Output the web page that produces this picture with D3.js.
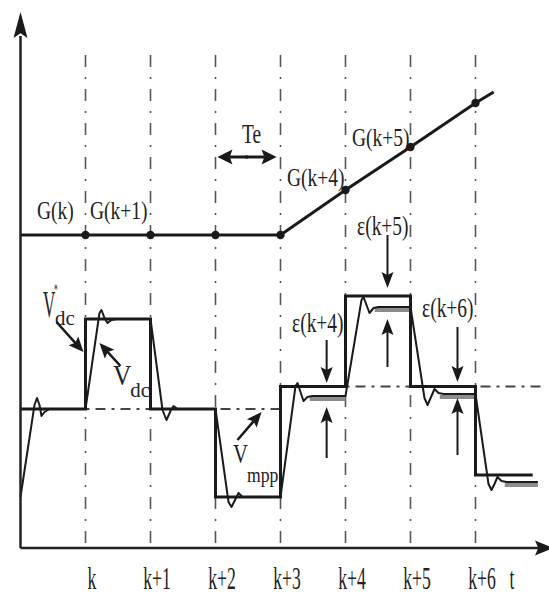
<!DOCTYPE html>
<html><head><meta charset="utf-8">
<script src="https://cdn.jsdelivr.net/npm/d3@7"></script>
<style>
html,body{margin:0;padding:0;background:#fff;}
svg{display:block;font-family:"Liberation Serif","Times New Roman",serif;}
</style></head><body>
<svg id="chart" width="549" height="597"></svg>
<script>
// Sampling instants on the time axis
const tickLabels = ["k", "k+1", "k+2", "k+3", "k+4", "k+5", "k+6"];
const tickTimes = [0, 1, 2, 3, 4, 5, 6];

// Reference voltage V*dc, held from each instant to the next
const refTimes = [-1, 0, 1, 2, 3, 4, 5, 6, 6.88];
const refValues = [27.8, 45.8, 27.8, 10.2, 32.3, 50.4, 32.3, 14.6, 14.6];

// Maximum power point voltage Vmpp (two plateaus)
const mppStart = [-1, 3];
const mppEnd = [3, 7.05];
const mppValues = [27.8, 32.3];

// Irradiance G: constant, then ramping after k+3
const gTimes = [-1, 0, 1, 2, 3, 4, 5, 6, 6.28];
const gValues = [62.6, 62.6, 62.6, 62.6, 62.6, 71.6, 80.2, 89.0, 91.2];
const gSampleTimes = [0, 1, 2, 3, 4, 5, 6];
const gSampleValues = [62.6, 62.6, 62.6, 62.6, 71.6, 80.2, 89.0];

// Measured DC-link voltage Vdc (transient after each step)
const vdcTimes = [-1.0, -0.785, -0.746, -0.708, -0.677, -0.631, -0.554, 0,
  0.215, 0.246, 0.292, 0.338, 0.4, 0.477, 1.0,
  1.185, 1.246, 1.308, 1.354, 1.415, 2.0,
  2.2, 2.246, 2.308, 2.354, 2.415, 3.0,
  3.231, 3.262, 3.308, 3.354, 3.415, 3.492, 4.0,
  4.246, 4.277, 4.323, 4.369, 4.431, 4.508, 5.0,
  5.215, 5.262, 5.323, 5.369, 5.431, 5.508, 6.0,
  6.2, 6.246, 6.292, 6.338, 6.4, 6.477, 6.96];
const vdcValues = [10.2, 28.6, 30.0, 28.6, 26.4, 27.2, 27.8, 27.8,
  47.0, 47.6, 46.0, 45.0, 45.6, 45.8, 45.8,
  27.6, 25.6, 27.4, 28.4, 27.8, 27.8,
  9.2, 8.2, 9.8, 11.0, 10.2, 10.2,
  32.4, 33.0, 31.2, 29.4, 30.2, 30.4, 30.4,
  49.6, 50.2, 48.6, 47.0, 48.0, 48.2, 48.2,
  30.0, 28.6, 30.4, 31.8, 31.0, 30.8, 30.8,
  12.8, 11.6, 12.8, 14.2, 13.4, 13.2, 13.2];

// Steady-state plateaus of Vdc that leave a tracking error
const settleStart = [3.45, 4.45, 5.45, 6.45];
const settleEnd = [4.0, 5.0, 6.0, 6.96];
const settleValues = [30.4, 48.2, 30.8, 13.2];

// Tracking errors ε: arrow pairs pointing at the gap
const epsLabels = ["ε(k+4)", "ε(k+5)", "ε(k+6)"];
const epsTimes = [3.71, 4.646, 5.723];
const epsDownFrom = [41.6, 62.6, 44.2];
const epsDownTo = [33.0, 52.0, 33.2];
const epsUpFrom = [18.0, 36.2, 18.6];
const epsUpTo = [28.2, 45.8, 30.0];

const svg = d3.select("#chart");
const x = d3.scaleLinear().domain([-1, 7]).range([20.5, 540.5]);
const y = d3.scaleLinear().domain([0, 100]).range([548, 48]);

const ink = "#1a1a1a";

// filled arrowhead with its tip at (x2,y2), pointing from (x1,y1)
function head(g, x1, y1, x2, y2, len, half) {
  const dx = x2 - x1, dy = y2 - y1, L = Math.hypot(dx, dy);
  const ux = dx / L, uy = dy / L;
  const bx = x2 - ux * len, by = y2 - uy * len;
  const p = d3.path();
  p.moveTo(x2, y2);
  p.lineTo(bx - uy * half, by + ux * half);
  p.lineTo(bx + ux * len * 0.18, by + uy * len * 0.18);
  p.lineTo(bx + uy * half, by - ux * half);
  p.closePath();
  g.append("path").attr("d", p.toString()).attr("fill", ink);
}
function arrow(g, t1, v1, t2, v2, len, half, width) {
  const x1 = x(t1), y1 = y(v1), x2 = x(t2), y2 = y(v2);
  const L = Math.hypot(x2 - x1, y2 - y1);
  const ex = x2 - (x2 - x1) / L * len * 0.8, ey = y2 - (y2 - y1) / L * len * 0.8;
  g.append("line").attr("x1", x1).attr("y1", y1).attr("x2", ex).attr("y2", ey)
    .attr("stroke", ink).attr("stroke-width", width);
  head(g, x1, y1, x2, y2, len, half);
}

// vertical dash-dot guides at every sampling instant
const guides = svg.append("g");
tickTimes.forEach(t => {
  guides.append("line")
    .attr("x1", x(t)).attr("x2", x(t))
    .attr("y1", 55).attr("y2", y(0))
    .attr("stroke", "#555").attr("stroke-width", 1.6)
    .attr("stroke-dasharray", "12,10,2,10");
});

// Vmpp dash-dot
const mpp = svg.append("g");
mppValues.forEach((v, i) => {
  mpp.append("line")
    .attr("x1", x(mppStart[i])).attr("x2", x(mppEnd[i]))
    .attr("y1", y(v)).attr("y2", y(v))
    .attr("stroke", "#444").attr("stroke-width", 2)
    .attr("stroke-dasharray", "10,6,3,6");
});

// irradiance G
svg.append("path")
  .datum(gTimes.map((t, i) => [t, gValues[i]]))
  .attr("fill", "none").attr("stroke", ink).attr("stroke-width", 3)
  .attr("d", d3.line().x(d => x(d[0])).y(d => y(d[1])));
svg.append("g").selectAll("circle")
  .data(gSampleTimes.map((t, i) => [t, gSampleValues[i]]))
  .join("circle")
  .attr("cx", d => x(d[0])).attr("cy", d => y(d[1])).attr("r", 4.2)
  .attr("fill", ink);

// grey bands under the Vdc plateaus
const bands = svg.append("g");
settleValues.forEach((v, i) => {
  bands.append("line")
    .attr("x1", x(settleStart[i])).attr("x2", x(settleEnd[i]))
    .attr("y1", y(v) + 3).attr("y2", y(v) + 3)
    .attr("stroke", "#8c8c8c").attr("stroke-width", 4);
});

// reference V*dc staircase
svg.append("path")
  .datum(refTimes.map((t, i) => [t, refValues[i]]))
  .attr("fill", "none").attr("stroke", ink).attr("stroke-width", 3)
  .attr("d", d3.line().curve(d3.curveStepAfter).x(d => x(d[0])).y(d => y(d[1])));

// measured Vdc
svg.append("path")
  .datum(vdcTimes.map((t, i) => [t, vdcValues[i]]))
  .attr("fill", "none").attr("stroke", ink).attr("stroke-width", 2)
  .attr("stroke-linejoin", "round")
  .attr("d", d3.line().x(d => x(d[0])).y(d => y(d[1])));

// time axis
const xAxis = d3.axisBottom(x).tickValues(tickTimes)
  .tickFormat((d, i) => tickLabels[i]).tickSize(0).tickPadding(0);
const ax = svg.append("g").attr("transform", `translate(0,${y(0)})`).call(xAxis);
ax.select(".domain").remove();
ax.selectAll("text")
  .attr("fill", "#222").attr("font-size", 31)
  .attr("font-family", '"Liberation Serif","Times New Roman",serif')
  .attr("y", 0).attr("dy", 0)
  .attr("transform", "translate(6,41) scale(0.57,1)");

// axis lines and arrowheads
const axes = svg.append("g");
axes.append("line").attr("x1", x(-1)).attr("x2", 538).attr("y1", y(0)).attr("y2", y(0))
  .attr("stroke", "#222").attr("stroke-width", 2.5);
axes.append("line").attr("x1", x(-1)).attr("x2", x(-1)).attr("y1", y(0)).attr("y2", 36)
  .attr("stroke", "#222").attr("stroke-width", 2.5);
head(axes, x(-1), 100, x(-1), 12, 26, 7);
head(axes, 500, y(0), 553, y(0), 18, 7.5);

// text annotations
function label(t, v, txt, size, sx, anchor) {
  return svg.append("text")
    .attr("transform", `translate(${x(t)},${y(v)}) scale(${sx},1)`)
    .attr("font-size", size).attr("fill", "#222")
    .attr("text-anchor", anchor || "start")
    .text(txt);
}
label(-0.746, 65.8, "G(k)", 25, 0.78);
label(0.069, 65.8, "G(k+1)", 25, 0.78);
label(3.1, 72.4, "G(k+4)", 25, 0.78);
label(4.1, 80.4, "G(k+5)", 25, 0.78);
label(2.408, 81.0, "Te", 27, 0.72);
label(6.56, -8.2, "t", 31, 0.57, "middle");

epsLabels.forEach((s, i) => {
  const pos = [[3.177, 43.2], [4.177, 62.6], [5.177, 46.2]][i];
  label(pos[0], pos[1], s, 27, 0.72);
});

// V*dc, Vdc and Vmpp labels
const vStar = label(-0.654, 46.2, "V", 38, 0.45);
vStar.append("tspan").attr("font-size", 17).attr("dx", -3).attr("dy", -22).text("*");
label(-0.469, 44.6, "dc", 22, 0.95);
label(0.423, 32.6, "V", 30, 0.85);
label(0.69, 30.2, "dc", 22, 0.95);
label(2.269, 17.0, "V", 27, 0.77);
label(2.485, 13.2, "mpp", 22, 0.8);

// pointer arrows
const ptr = svg.append("g");
arrow(ptr, -0.446, 45.2, -0.031, 39.2, 15, 6.5, 2.5);
arrow(ptr, 0.538, 36.4, 0.215, 41.0, 15, 6.5, 2.5);
arrow(ptr, 2.338, 21.6, 2.708, 27.2, 15, 6.5, 2.5);

// Te double arrow
const te = svg.append("g");
arrow(te, 2.5, 78.2, 2.03, 78.2, 15, 7.5, 3);
arrow(te, 2.45, 78.2, 2.94, 78.2, 15, 7.5, 3);

// ε arrows
epsTimes.forEach((t, i) => {
  arrow(ptr, t, epsDownFrom[i], t, epsDownTo[i], 16, 6, 2);
  arrow(ptr, t, epsUpFrom[i], t, epsUpTo[i], 16, 6, 2);
});
</script>
</body></html>
